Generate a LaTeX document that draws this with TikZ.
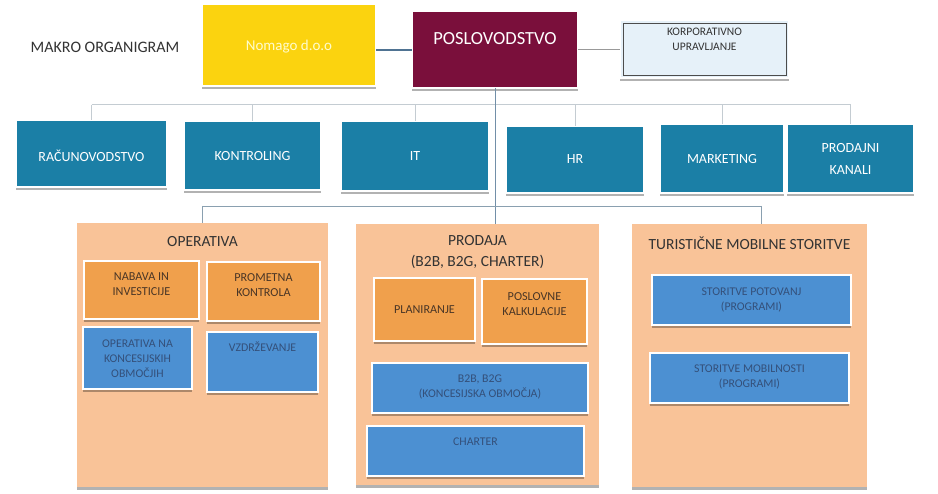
\documentclass[tikz,border=0pt]{standalone}
\usepackage{fontspec}
\setmainfont{Carlito}
\usetikzlibrary{shadows,calc}
\definecolor{cyellow}{HTML}{FBD30F}
\definecolor{cmaroon}{HTML}{7A0F3B}
\definecolor{cblue}{HTML}{1B7FA6}
\definecolor{clight}{HTML}{E6F1F9}
\definecolor{cpeach}{HTML}{F9C398}
\definecolor{corange}{HTML}{F0A04C}
\definecolor{csub}{HTML}{4C90D2}
\definecolor{cdark}{HTML}{333333}
\definecolor{cbrown}{HTML}{4A3626}
\definecolor{csubtxt}{HTML}{34507A}
\definecolor{cconn}{HTML}{4F7392}
\definecolor{cbus}{HTML}{C4CCD2}
\definecolor{cbustwo}{HTML}{8AA0B0}
\newcommand\mybox[8]{%
  \node[#6, minimum width={(#4-#2)*1pt}, minimum height={(#5-#3)*1pt},
        label={[#6 text, yshift=#7pt]center:{#8}}]
        (#1) at ({(#2+#4)/2},{(#3+#5)/2}) {};}
\tikzset{
  base/.style={rectangle, inner sep=0pt, outer sep=0pt, draw=white, line width=2.4pt,
    drop shadow={shadow xshift=0.3pt, shadow yshift=-2.6pt, fill=black, opacity=0.3}},
  yellowbox/.style={base, fill=cyellow},
  yellowbox text/.style={font=\fontsize{15}{18}\selectfont, text=white!80!yellow},
  maroonbox/.style={base, fill=cmaroon},
  maroonbox text/.style={font=\fontsize{18.5}{22}\selectfont, text=white},
  lightbox/.style={base, fill=clight},
  lightbox text/.style={align=center, font=\fontsize{11.5}{15}\selectfont, text=cdark},
  bluebox/.style={base, fill=cblue},
  bluebox text/.style={align=center, font=\fontsize{14}{22}\selectfont, text=white},
  container/.style={base, fill=cpeach, draw=none},
  container text/.style={align=center, font=\fontsize{15.5}{21}\selectfont, text=cdark},
  orangebox/.style={base, fill=corange, line width=2.8pt},
  orangebox text/.style={align=center, font=\fontsize{12.2}{15}\selectfont, text=cbrown},
  subbluebox/.style={base, fill=csub, line width=2.8pt},
  subbluebox text/.style={align=center, font=\fontsize{11.8}{15}\selectfont, text=csubtxt},
  conn/.style={draw=cconn, line width=1.1pt},
  thinconn/.style={draw=black!40, line width=0.7pt},
  busline/.style={draw=cbus, line width=1pt},
  bustwo/.style={draw=cbustwo, line width=0.8pt},
  vline/.style={draw=cconn!80, line width=0.8pt},
  title/.style={font=\fontsize{16}{19}\selectfont, text=cdark}
}
\begin{document}
\begin{tikzpicture}[x=1pt,y=-1pt]
\useasboundingbox[fill=white] (0,0) rectangle (938,494);
\node[title] (makro) at (105,47) {MAKRO ORGANIGRAM};
% top row
\mybox{nomago}{202}{4}{376}{86}{yellowbox}{-2}{Nomago d.o.o}
\mybox{posl}{412}{11}{578}{88}{maroonbox}{11}{POSLOVODSTVO}
\mybox{korp}{620}{20}{789}{78}{lightbox}{9.5}{KORPORATIVNO\\UPRAVLJANJE}
\draw[black!70, line width=0.8pt] ([shift={(3,-3)}]korp.south west) rectangle ([shift={(-3,3)}]korp.north east);
% second row
\mybox{rac}{16}{120}{167}{187}{bluebox}{-2}{RAČUNOVODSTVO}
\mybox{kont}{184}{121}{321}{190}{bluebox}{-1}{KONTROLING}
\mybox{it}{341}{121}{489}{191}{bluebox}{0}{IT}
\mybox{hr}{506}{126}{644}{193}{bluebox}{0}{HR}
\mybox{mark}{660}{124}{784}{193}{bluebox}{-1}{MARKETING}
\mybox{kanali}{787}{124}{914}{193}{bluebox}{0}{PRODAJNI\\KANALI}
% containers
\mybox{oper}{77}{223}{328}{487}{container}{113}{OPERATIVA}
\mybox{prod}{356}{224}{599}{485}{container}{102}{PRODAJA\\(B2B, B2G, CHARTER)}
\mybox{turist}{632}{224}{867}{487}{container}{112.5}{TURISTIČNE MOBILNE STORITVE}
% operativa
\mybox{nabava}{84}{261}{199}{319}{orangebox}{6}{NABAVA IN\\INVESTICIJE}
\mybox{promet}{207}{262}{320}{321}{orangebox}{6.5}{PROMETNA\\KONTROLA}
\mybox{opna}{83}{327}{192}{389}{subbluebox}{-1}{OPERATIVA NA\\KONCESIJSKIH\\OBMOČJIH}
\mybox{vzdr}{207}{332}{318}{392}{subbluebox}{15}{VZDRŽEVANJE}
% prodaja
\mybox{plan}{374}{278}{475}{341}{orangebox}{0}{PLANIRANJE}
\mybox{kalk}{482}{279}{587}{344}{orangebox}{7}{POSLOVNE\\KALKULACIJE}
\mybox{btob}{372}{363}{588}{413}{subbluebox}{1.5}{B2B, B2G\\(KONCESIJSKA OBMOČJA)}
\mybox{charter}{367}{426}{584}{476}{subbluebox}{9}{CHARTER}
% turisticne
\mybox{potov}{652}{275}{851}{325}{subbluebox}{0}{STORITVE POTOVANJ\\(PROGRAMI)}
\mybox{mobil}{650}{353}{849}{403}{subbluebox}{1}{STORITVE MOBILNOSTI\\(PROGRAMI)}
% connectors
\draw[conn] (nomago.east |- 0,50) -- (posl.west |- 0,50);
\draw[thinconn] (posl.east |- 0,49) -- (korp.west |- 0,49);
\coordinate (busone) at (495,105);
\coordinate (bustwo) at (495,206);
\draw[busline] (rac.north |- busone) -- (kanali.north |- busone);
\foreach \n in {rac,kont,it,hr,mark,kanali}{
  \draw[busline] (\n.north |- busone) -- (\n.north);
}
\draw[vline] (posl.south) -- (posl.south |- prod.north);
\draw[bustwo] (oper.north |- bustwo) -- ($(turist.north |- bustwo)+(12,0)$);
\draw[bustwo] (oper.north |- bustwo) -- (oper.north);
\draw[bustwo] ($(turist.north |- bustwo)+(12,0)$) -- ($(turist.north)+(12,0)$);
\end{tikzpicture}
\end{document}
